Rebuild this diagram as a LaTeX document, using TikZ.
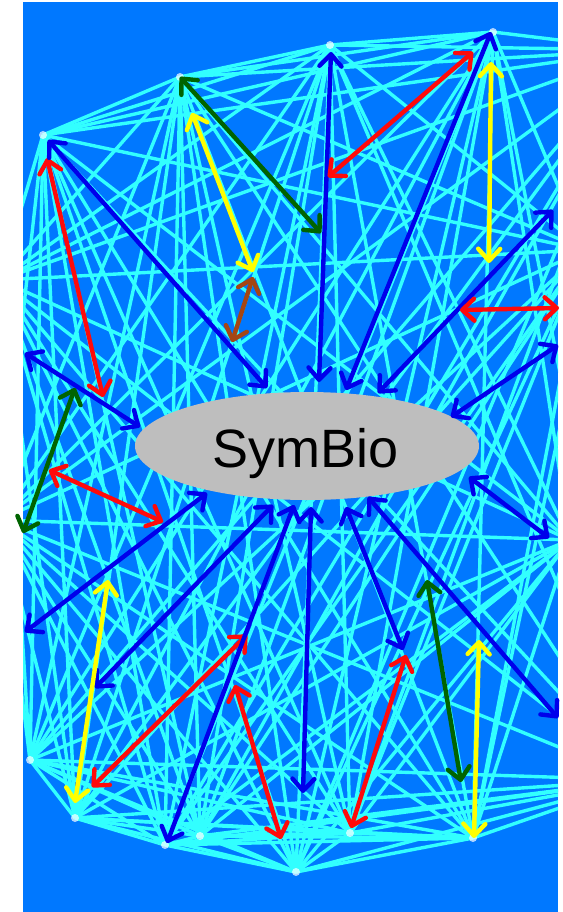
\documentclass[tikz,border=0pt]{standalone}
\usepackage{fontspec}
\setmainfont{Liberation Sans}
\usetikzlibrary{arrows.meta}
\definecolor{bgblue}{RGB}{0,120,255}
\definecolor{meshc}{RGB}{50,255,255}
\definecolor{ablue}{RGB}{0,0,235}
\definecolor{ared}{RGB}{255,10,10}
\definecolor{ayellow}{RGB}{255,255,0}
\definecolor{agreen}{RGB}{0,100,0}
\definecolor{abrown}{RGB}{165,70,20}
\definecolor{egray}{RGB}{190,190,190}
\tikzset{
  meshline/.style={draw=meshc, line width=3.4pt},
  arr/.style={line width=4.4pt, {Straight Barb[length=12pt,width=22pt,round]}-{Straight Barb[length=12pt,width=22pt,round]}},
  hub/.style={circle, fill=white, fill opacity=0.7, inner sep=0pt, minimum size=8pt}
}
\begin{document}
\begin{tikzpicture}[x=1pt,y=-1pt]
\useasboundingbox (0,0) rectangle (562,912);
\fill[white] (0,0) rectangle (562,912);
\fill[bgblue] (23,2) rectangle (558,912);
\begin{scope}
\clip (23,2) rectangle (558,912);
% mesh vertices
\coordinate (v1) at (43,135);
\coordinate (v2) at (180,77);
\coordinate (v3) at (330,45);
\coordinate (v4) at (493,32);
\coordinate (v5) at (640,50);
\coordinate (v6) at (585,250);
\coordinate (v7) at (570,540);
\coordinate (v8) at (640,780);
\coordinate (v9) at (473,838);
\coordinate (v10) at (350,833);
\coordinate (v11) at (296,872);
\coordinate (v12) at (200,836);
\coordinate (v13) at (165,845);
\coordinate (v14) at (75,818);
\coordinate (v15) at (30,760);
\coordinate (v16) at (0,520);
\coordinate (v17) at (0,280);
\foreach \i in {1,...,16}{
  \pgfmathtruncatemacro\ni{\i+1}
  \foreach \j in {\ni,...,17}{
    \draw[meshline] (v\i) -- (v\j);
  }
}
\foreach \k in {1,2,3,4,9,10,11,12,13,14,15}{
  \node[hub] (h\k) at (v\k) {};
}
\end{scope}
% central ellipse
\fill[egray] (307,446) ellipse [x radius=172, y radius=54];
\node[anchor=base, inner sep=0pt, font=\fontsize{54}{60}\selectfont] (lbl) at (306,467) {SymBio};
% arrow end points
\coordinate (a1s) at (47,158);  \coordinate (a1e) at (103,397);
\coordinate (a2s) at (48,140);  \coordinate (a2e) at (267,388);
\coordinate (a3s) at (192,113); \coordinate (a3e) at (253,272);
\coordinate (a4s) at (180,77);  \coordinate (a4e) at (321,233);
\coordinate (a5s) at (253,277); \coordinate (a5e) at (232,342);
\coordinate (a6s) at (331,52);  \coordinate (a6e) at (319,382);
\coordinate (a7s) at (473,52);  \coordinate (a7e) at (328,177);
\coordinate (a8s) at (491,32);  \coordinate (a8e) at (346,390);
\coordinate (a9s) at (491,62);  \coordinate (a9e) at (489,263);
\coordinate (a10s) at (553,210); \coordinate (a10e) at (378,393);
\coordinate (a11s) at (460,310); \coordinate (a11e) at (559,308);
\coordinate (a12s) at (558,345); \coordinate (a12e) at (451,417);
\coordinate (a13s) at (25,353);  \coordinate (a13e) at (140,427);
\coordinate (a14s) at (75,388);  \coordinate (a14e) at (23,533);
\coordinate (a15s) at (49,470);  \coordinate (a15e) at (163,522);
\coordinate (a16s) at (25,632);  \coordinate (a16e) at (207,493);
\coordinate (a17s) at (95,688);  \coordinate (a17e) at (273,505);
\coordinate (a18s) at (108,580); \coordinate (a18e) at (75,803);
\coordinate (a19s) at (92,787);  \coordinate (a19e) at (247,635);
\coordinate (a20s) at (294,505); \coordinate (a20e) at (167,843);
\coordinate (a21s) at (311,507); \coordinate (a21e) at (303,793);
\coordinate (a22s) at (346,507); \coordinate (a22e) at (403,650);
\coordinate (a23s) at (368,497); \coordinate (a23e) at (558,718);
\coordinate (a24s) at (235,685); \coordinate (a24e) at (281,839);
\coordinate (a25s) at (406,655); \coordinate (a25e) at (351,828);
\coordinate (a26s) at (427,580); \coordinate (a26e) at (461,782);
\coordinate (a27s) at (479,640); \coordinate (a27e) at (474,838);
\coordinate (a28s) at (469,477); \coordinate (a28e) at (549,538);
% arrows
\draw[arr, ared] (a1s) -- (a1e);
\draw[arr, ablue] (a2s) -- (a2e);
\draw[arr, ayellow] (a3s) -- (a3e);
\draw[arr, agreen] (a4s) -- (a4e);
\draw[arr, abrown] (a5s) -- (a5e);
\draw[arr, ablue] (a6s) -- (a6e);
\draw[arr, ared] (a7s) -- (a7e);
\draw[arr, ablue] (a8s) -- (a8e);
\draw[arr, ayellow] (a9s) -- (a9e);
\draw[arr, ablue] (a10s) -- (a10e);
\draw[arr, ared] (a11s) -- (a11e);
\draw[arr, ablue] (a12s) -- (a12e);
\draw[arr, ablue] (a13s) -- (a13e);
\draw[arr, agreen] (a14s) -- (a14e);
\draw[arr, ared] (a15s) -- (a15e);
\draw[arr, ablue] (a16s) -- (a16e);
\draw[arr, ablue] (a17s) -- (a17e);
\draw[arr, ayellow] (a18s) -- (a18e);
\draw[arr, ared] (a19s) -- (a19e);
\draw[arr, ablue] (a20s) -- (a20e);
\draw[arr, ablue] (a21s) -- (a21e);
\draw[arr, ablue] (a22s) -- (a22e);
\draw[arr, ablue] (a23s) -- (a23e);
\draw[arr, ared] (a24s) -- (a24e);
\draw[arr, ared] (a25s) -- (a25e);
\draw[arr, agreen] (a26s) -- (a26e);
\draw[arr, ayellow] (a27s) -- (a27e);
\draw[arr, ablue] (a28s) -- (a28e);
\end{tikzpicture}
\end{document}
